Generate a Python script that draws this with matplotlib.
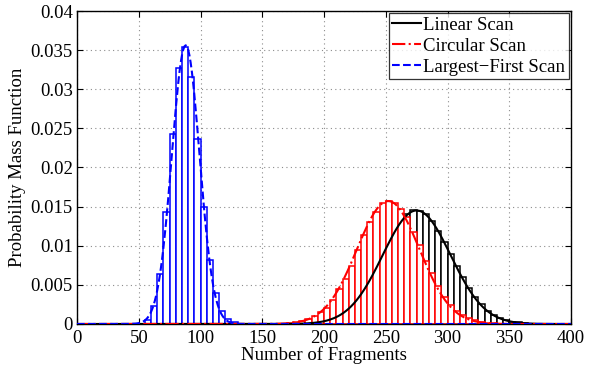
import matplotlib
matplotlib.use('Agg')
from matplotlib import pyplot as plt
import numpy as np

plt.rcParams['font.family'] = ['Liberation Serif', 'DejaVu Serif']
plt.rcParams['font.size'] = 13.5

BIN_WIDTH = 5

# histogram bins (left edges) and probability per fragment count
linear_edges = np.arange(195, 365, 5)
linear_pmf = [0.0002, 0.0004, 0.0007, 0.0011, 0.0016, 0.0024, 0.0034, 0.0045,
              0.0058, 0.0073, 0.0088, 0.0104, 0.0119, 0.0131, 0.0140, 0.0146,
              0.0145, 0.0141, 0.0132, 0.0119, 0.0105, 0.0090, 0.0074, 0.0060,
              0.0046, 0.0035, 0.0025, 0.0017, 0.0012, 0.0008, 0.0005, 0.0003,
              0.0002, 0.0001]

circular_edges = np.arange(170, 340, 5)
circular_pmf = [0.0001, 0.0002, 0.0004, 0.0006, 0.00096, 0.00147, 0.00203, 0.0031,
                0.00445, 0.00577, 0.00743, 0.00947, 0.01139, 0.0130, 0.01436, 0.01543,
                0.01572, 0.01543, 0.01467, 0.01372, 0.0118, 0.0101, 0.0080, 0.0065,
                0.0048, 0.0035, 0.00245, 0.00172, 0.00117, 0.00075, 0.00045, 0.00025,
                0.00015, 0.00008]

largest_edges = np.arange(55, 130, 5)
largest_pmf = [0.0005, 0.00224, 0.0064, 0.01436, 0.02428, 0.03267, 0.03534, 0.03151,
               0.0236, 0.0150, 0.0082, 0.00394, 0.00168, 0.00062, 0.00024]

# normal approximation for each scan: mean and standard deviation
fit_mean = [275.0, 252.0, 88.0]
fit_std = [27.5, 25.4, 11.2]

labels = ['Linear Scan', 'Circular Scan', 'Largest\u2212First Scan']
colors = ['k', 'r', 'b']
styles = ['-', '-.', '--']
hists = [(linear_edges, linear_pmf), (circular_edges, circular_pmf),
         (largest_edges, largest_pmf)]


def normal_pdf(x, mu, sigma):
    return np.exp(-(x - mu) ** 2 / (2 * sigma ** 2)) / (sigma * np.sqrt(2 * np.pi))


fig = plt.figure(figsize=(5.91, 3.67), dpi=100)
ax = fig.add_axes([0.1303, 0.1172, 0.8359, 0.8528])
ax.set_axisbelow(True)
ax.grid(True, linestyle=(0, (1, 3)), color='#8c8c8c', linewidth=0.8)

for (edges, pmf), color in zip(hists, colors):
    ax.bar(edges + BIN_WIDTH / 2.0, pmf, width=BIN_WIDTH, facecolor='white',
           edgecolor=color, linewidth=1.1, zorder=2)

x = np.arange(0, 401)
handles = []
for mu, sd, label, color, ls in zip(fit_mean, fit_std, labels, colors, styles):
    h, = ax.plot(x, normal_pdf(x, mu, sd), color=color, linestyle=ls,
                 linewidth=1.5, label=label, zorder=3)
    handles.append(h)

ax.set_xlim(0, 400)
ax.set_ylim(0, 0.04)
ax.set_xticks(np.arange(0, 401, 50))
ax.set_yticks(np.arange(0, 0.0401, 0.005))
ax.set_yticklabels(['0', '0.005', '0.01', '0.015', '0.02', '0.025', '0.03', '0.035', '0.04'])
ax.tick_params(direction='in', top=True, right=True, length=4, width=0.8, pad=3)
ax.tick_params(axis='x', pad=4)
for s in ax.spines.values():
    s.set_linewidth(1.0)

ax.set_xlabel('Number of Fragments', labelpad=0)
ax.set_ylabel('Probability Mass Function', labelpad=3)

leg = ax.legend(handles=handles, loc='upper right', borderaxespad=0.1, fancybox=False,
                handlelength=1.5, handletextpad=0.15, labelspacing=0.2, borderpad=0.2)
leg.get_frame().set_edgecolor('k')
leg.get_frame().set_linewidth(0.9)

fig.savefig('out.png', dpi=100)
